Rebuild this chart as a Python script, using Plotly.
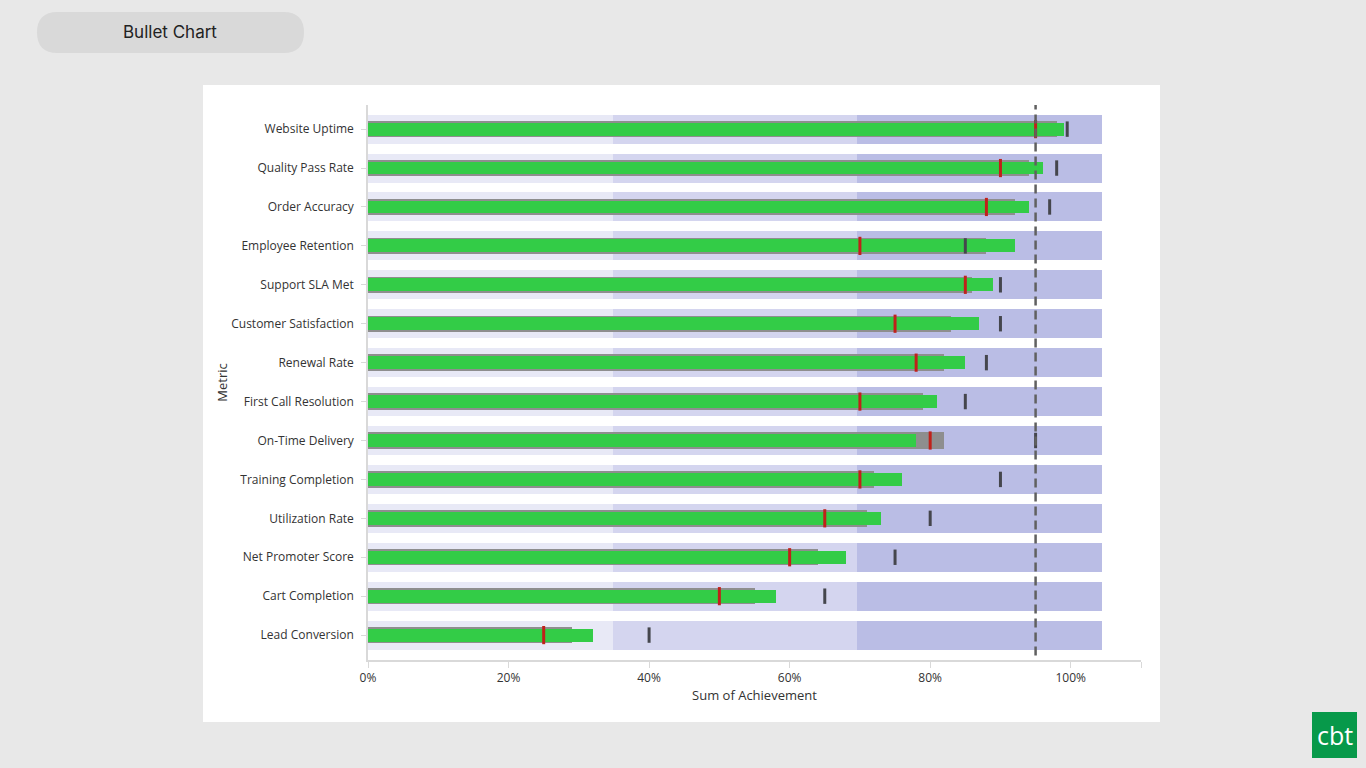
import plotly.graph_objects as go

# bullet chart data (percent)
metrics = ["Website Uptime", "Quality Pass Rate", "Order Accuracy", "Employee Retention",
           "Support SLA Met", "Customer Satisfaction", "Renewal Rate", "First Call Resolution",
           "On-Time Delivery", "Training Completion", "Utilization Rate", "Net Promoter Score",
           "Cart Completion", "Lead Conversion"]
previous = [98, 94, 92, 88, 86, 83, 82, 79, 82, 72, 71, 64, 55, 29]
actual = [99, 96, 94, 92, 89, 87, 85, 81, 78, 76, 73, 68, 58, 32]
comparison = [95, 90, 88, 70, 85, 75, 78, 70, 80, 70, 65, 60, 50, 25]
target = [99.5, 98, 97, 85, 90, 90, 88, 85, 95, 90, 80, 75, 65, 40]
band_edges = [0, 34.8, 69.65, 104.5]
band_colors = ["#e8e9f6", "#d4d5ef", "#babde5"]
goal_line = 95
x_ticks = [0, 20, 40, 60, 80, 100, 110]
x_labels = ["0%", "20%", "40%", "60%", "80%", "100%", ""]

W, H = 1366, 768
L, R, T, B = 368, 1141, 105, 660
FONT = "Open Sans"

fig = go.Figure()

# qualitative ranges
for i in range(3):
    fig.add_trace(go.Bar(
        y=metrics, x=[band_edges[i + 1] - band_edges[i]] * len(metrics),
        base=[band_edges[i]] * len(metrics), orientation="h", width=0.745,
        marker=dict(color=band_colors[i], line=dict(width=0)),
        hoverinfo="skip", showlegend=False))

fig.add_trace(go.Bar(y=metrics, x=previous, orientation="h", width=0.42,
                     marker=dict(color="#8e8e8e", line=dict(width=0)), showlegend=False))
fig.add_trace(go.Bar(y=metrics, x=actual, orientation="h", width=0.33,
                     marker=dict(color="#33cc47", line=dict(width=0)), showlegend=False))

fig.add_trace(go.Scatter(y=metrics, x=target, mode="markers", showlegend=False,
                         marker=dict(symbol="line-ns", size=11,
                                     line=dict(color="#45464d", width=3))))
fig.add_trace(go.Scatter(y=metrics, x=comparison, mode="markers", showlegend=False,
                         marker=dict(symbol="line-ns", size=13,
                                     line=dict(color="#c0211a", width=3))))

pw = R - L
ph = B - T
shapes = [
    # white card
    dict(type="rect", xref="paper", yref="paper", layer="below",
         x0=(203 - L) / pw, x1=(1160 - L) / pw, y0=(B - 722) / ph, y1=(B - 85) / ph,
         fillcolor="white", line=dict(width=0)),
    # goal line
    dict(type="line", xref="x", yref="paper", x0=goal_line, x1=goal_line, y0=0.008, y1=1,
         line=dict(color="#606060", width=2.5, dash="9px,5px")),
]

# title pill (pixel coords from top-left of plot area, y up)
x0, x1, y0, y1, r = 37 - L, 304 - L, T - 53, T - 12, 20.5
pill = (f"M{x0 + r},{y0} L{x1 - r},{y0} Q{x1},{y0} {x1},{y0 + r} "
        f"Q{x1},{y1} {x1 - r},{y1} L{x0 + r},{y1} Q{x0},{y1} {x0},{y1 - r} "
        f"Q{x0},{y0} {x0 + r},{y0} Z")
shapes.append(dict(type="path", xref="paper", yref="paper", xsizemode="pixel",
                   ysizemode="pixel", xanchor=0, yanchor=1, path=pill,
                   fillcolor="#d9d9d9", line=dict(width=0), layer="below"))
# logo
shapes.append(dict(type="rect", xref="paper", yref="paper", layer="below",
                   x0=(1312 - L) / pw, x1=(1357 - L) / pw, y0=(B - 758) / ph, y1=(B - 712) / ph,
                   fillcolor="#07994a", line=dict(width=0)))

annotations = [
    dict(text="Bullet Chart", xref="paper", yref="paper", x=(170 - L) / pw, y=(B - 32) / ph,
         xanchor="center", yanchor="middle", showarrow=False,
         font=dict(family="Inter", size=17, color="#222222")),
    dict(text="cbt", xref="paper", yref="paper", x=(1334.5 - L) / pw, y=(B - 735) / ph,
         xanchor="center", yanchor="middle", showarrow=False,
         font=dict(family="Open Sans", size=25, color="white")),
]

fig.update_layout(
    width=W, height=H,
    margin=dict(l=L, r=W - R, t=T, b=H - B, pad=0),
    paper_bgcolor="#e8e8e8", plot_bgcolor="rgba(0,0,0,0)",
    barmode="overlay", bargap=0,
    font=dict(family=FONT, size=12, color="#333333"),
    shapes=shapes, annotations=annotations,
    xaxis=dict(range=[0, 110], tickvals=x_ticks, ticktext=x_labels,
               showgrid=False, zeroline=False, showline=True, linecolor="#d9d9d9",
               linewidth=1.5, ticks="outside", ticklen=6, tickcolor="#d9d9d9",
               tickfont=dict(size=12, color="#333333"),
               title=dict(text="Sum of Achievement", standoff=3,
                          font=dict(size=13, color="#333333"))),
    yaxis=dict(type="category", categoryorder="array", categoryarray=metrics,
               range=[13.64, -0.62], showgrid=False, zeroline=False, showline=True,
               linecolor="#d9d9d9", linewidth=1.5, ticks="outside", ticklen=5,
               tickcolor="#d9d9d9", ticklabelstandoff=5,
               tickfont=dict(size=12, color="#333333"),
               title=dict(text="Metric", standoff=1, font=dict(size=13, color="#333333"))),
)

fig.write_html("out.html", config={"displayModeBar": False},
               post_script="document.body.style.margin='0';"
                           "document.body.style.overflow='hidden';"
                           "document.body.style.background='#e8e8e8';")
